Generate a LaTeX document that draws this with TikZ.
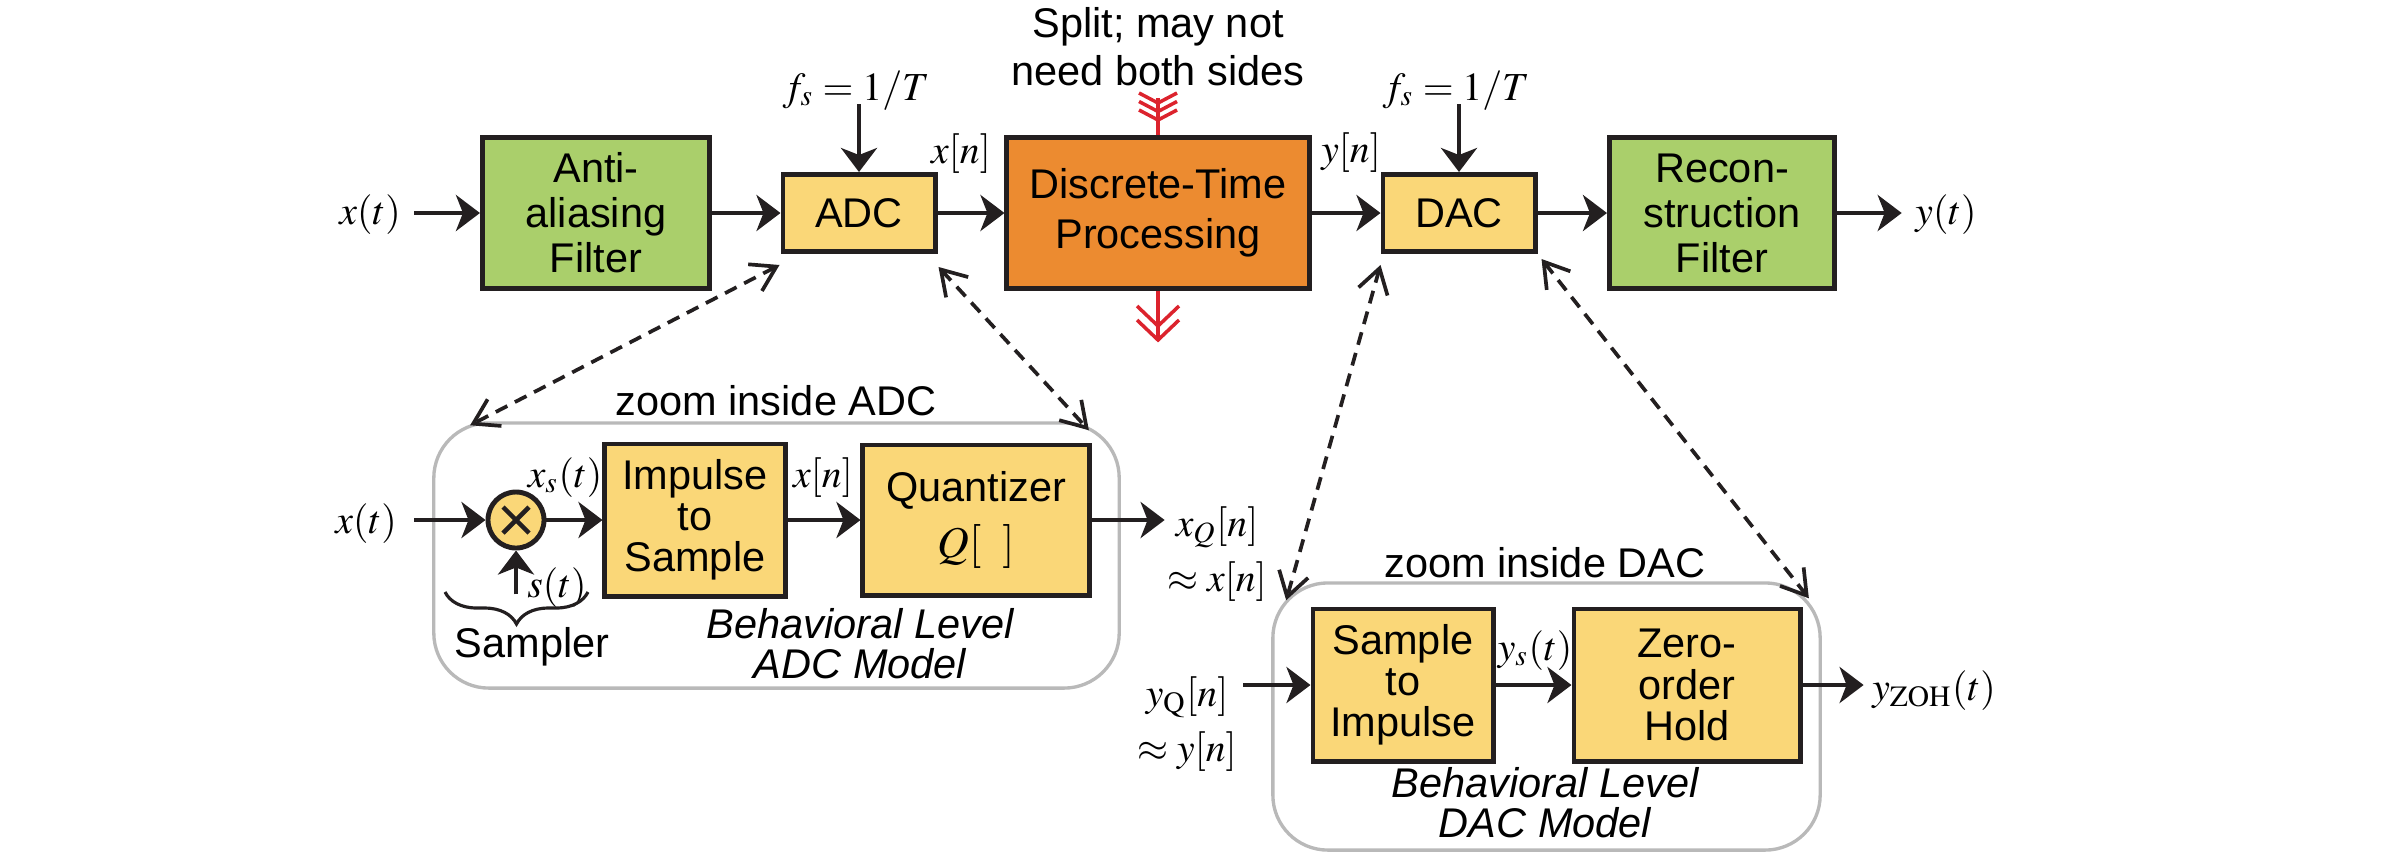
\documentclass[tikz,border=0pt]{standalone}
\usepackage{mathptmx}
\usepackage[no-math]{fontspec}
\setmainfont{Liberation Sans}
\usetikzlibrary{arrows.meta,decorations.pathreplacing,calc}
\definecolor{cgreen}{RGB}{170,207,107}
\definecolor{cyellow}{RGB}{250,215,120}
\definecolor{corange}{RGB}{236,139,48}
\definecolor{cline}{RGB}{35,31,32}
\definecolor{cred}{RGB}{220,35,45}
\definecolor{cgray}{RGB}{185,185,185}
\begin{document}
\begin{tikzpicture}[x=0.01cm,y=-0.01cm,
 box/.style={draw=cline,line width=1.4pt,align=center,inner sep=0pt,font=\fontsize{11.8}{12.8}\selectfont},
 sbox/.style={box,font=\fontsize{11.8}{11.7}\selectfont},
 lbl/.style={inner sep=0pt,font=\fontsize{11.3}{12}\selectfont},
 txt/.style={inner sep=0pt,align=center,font=\fontsize{11.8}{12.8}\selectfont},
 arr/.style={draw=cline,line width=1.4pt,-{Stealth[length=0.24cm,width=0.36cm,inset=0.07cm]}},
 zarr/.style={draw=cline,line width=1.05pt,dash pattern=on 0.13cm off 0.085cm,{Straight Barb[length=0.24cm,width=0.3cm]}-{Straight Barb[length=0.24cm,width=0.3cm]}},
 zbox/.style={draw=cgray,line width=0.95pt,rounded corners=0.55cm,inner sep=0pt},
 redl/.style={draw=cred,line width=1pt},
]
\useasboundingbox (0,0) rectangle (2383,866);

% ---------- top row ----------
\node[box,fill=cgreen,minimum width=2.27cm,minimum height=1.51cm] (aa) at (596,213) {Anti-\\aliasing\\Filter};
\node[box,fill=cyellow,minimum width=1.52cm,minimum height=0.77cm] (adc) at (859,213) {ADC};
\node[box,fill=corange,minimum width=3.02cm,minimum height=1.51cm,font=\fontsize{11.8}{14.2}\selectfont] (dt) at (1158,213) {Discrete-Time\\Processing};
\node[box,fill=cyellow,minimum width=1.52cm,minimum height=0.77cm] (dac) at (1459,213) {DAC};
\node[box,fill=cgreen,minimum width=2.25cm,minimum height=1.51cm] (rec) at (1722,213) {Recon-\\struction\\Filter};

\node[lbl,anchor=base] (xin) at (370,224) {$x(t)$};
\node[lbl,anchor=base] (yout) at (1946,224) {$y(t)$};
\node[lbl,anchor=base] (xn) at (961,163) {$x[n]$};
\node[lbl,anchor=base] (yn) at (1351,162) {$y[n]$};
\node[lbl,anchor=base] (fs1) at (856,100) {$f_s = 1/T$};
\node[lbl,anchor=base] (fs2) at (1456,100) {$f_s = 1/T$};
\node[txt,anchor=north,font=\fontsize{11.8}{13.7}\selectfont] (split) at (1158,7) {Split; may not\\need both sides};

\draw[arr] (xin.east |- aa.west) ++(13,0) -- (aa.west);
\draw[arr] (aa.east) -- (adc.west);
\draw[arr] (adc.east) -- (dt.west);
\draw[arr] (dt.east) -- (dac.west);
\draw[arr] (dac.east) -- (rec.west);
\draw[arr] (rec.east) -- ($(yout.west |- rec.east)+(-13,0)$);
\draw[arr] ($(adc.north |- fs1.base)+(0,4)$) -- (adc.north);
\draw[arr] ($(dac.north |- fs2.base)+(0,4)$) -- (dac.north);

% red split marks
\draw[redl] (dt.north) -- ++(0,-37);
\foreach \k in {0,1,2} \draw[redl] ($(dt.north)+(-19,-42+8.5*\k)$) -- ++(19,10) -- ++(19,-10);
\draw[redl] (dt.south) -- ++(0,49);
\foreach \k in {0,1} \draw[redl] ($(dt.south)+(-21,15+14*\k)$) -- ++(21,20) -- ++(21,-20);

% ---------- ADC zoom ----------
\node[zbox,minimum width=6.85cm,minimum height=2.65cm] (adcz) at (776.5,555.5) {};
\node[txt,anchor=base] (adczl) at (776,415) {zoom inside ADC};
\node[lbl,anchor=base] (xin2) at (366,533) {$x(t)$};
\node[circle,draw=cline,fill=cyellow,line width=1.4pt,minimum size=0.56cm,inner sep=0pt] (mul) at (516,520) {};
\draw[line width=1.3pt,cline] ($(mul.center)+(-13,-13)$) -- ($(mul.center)+(13,13)$);
\draw[line width=1.3pt,cline] ($(mul.center)+(-13,13)$) -- ($(mul.center)+(13,-13)$);
\node[sbox,fill=cyellow,minimum width=1.80cm,minimum height=1.52cm] (imp) at (695,520) {Impulse\\to\\Sample};
\node[box,fill=cyellow,minimum width=2.26cm,minimum height=1.50cm] (qz) at (976,520) {Quantizer\\[3pt]{\fontsize{12.5}{13}\selectfont$Q[\hspace{6pt}]$}};
\node[lbl,anchor=base] (xs) at (565,487) {$x_s(t)$};
\node[lbl,anchor=base] (st) at (557,597) {$s(t)$};
\node[lbl,anchor=base] (xn2) at (823,487) {$x[n]$};
\node[lbl,anchor=north,align=center,font=\fontsize{11.3}{15.6}\selectfont] (xq) at (1217,506) {$x_Q[n]$\\$\approx x[n]$};
\node[txt,anchor=base] (samp) at (532,657) {Sampler};
\node[txt,anchor=north,font=\itshape\fontsize{11.8}{11.4}\selectfont] (bha) at (860,608) {Behavioral Level\\ADC Model};

\draw[arr] ($(xin2.east |- mul.west)+(17,0)$) -- (mul.west);
\draw[arr] (mul.east) -- (imp.west);
\draw[arr] ($(mul.south)+(0,44)$) -- (mul.south);
\draw[arr] (imp.east) -- (qz.west);
\draw[arr] (qz.east) -- ($(xq.west |- qz.east)+(-2,0)$);
\draw[decorate,decoration={brace,mirror,amplitude=0.32cm},line width=0.9pt,draw=cline] (445,592) -- (588,592);

% ---------- DAC zoom ----------
\node[zbox,minimum width=5.47cm,minimum height=2.67cm] (dacz) at (1546.5,716.5) {};
\node[txt,anchor=base] (daczl) at (1545,577) {zoom inside DAC};
\node[sbox,fill=cyellow,minimum width=1.80cm,minimum height=1.52cm] (s2i) at (1403,685) {Sample\\to\\Impulse};
\node[sbox,fill=cyellow,minimum width=2.26cm,minimum height=1.52cm] (zoh) at (1687,685) {Zero-\\order\\Hold};
\node[lbl,anchor=north,align=center,font=\fontsize{11.3}{15.6}\selectfont] (yq) at (1187,676) {$y_{\mathrm{Q}}[n]$\\$\approx y[n]$};
\node[lbl,anchor=base] (ys) at (1535,660) {$y_s(t)$};
\node[lbl,anchor=base] (yzoh) at (1934,700) {$y_{\mathrm{ZOH}}(t)$};
\node[txt,anchor=north,font=\itshape\fontsize{11.8}{11.4}\selectfont] (bhd) at (1545,767) {Behavioral Level\\DAC Model};

\draw[arr] ($(yq.east |- s2i.west)+(6,0)$) -- (s2i.west);
\draw[arr] (s2i.east) -- (zoh.west);
\draw[arr] (zoh.east) -- ($(yzoh.west |- zoh.east)+(-8,0)$);

% ---------- zoom connectors ----------
\draw[zarr] ($(adc.south west)+(-1,11)$) -- ($(adcz.north west)+(38,4)$);
\draw[zarr] ($(adc.south east)+(1,13)$) -- ($(adcz.north east)+(-32,9)$);
\draw[zarr] ($(dac.south west)+(0,11)$) -- ($(dacz.north west)+(15,19)$);
\draw[zarr] ($(dac.south east)+(4,5)$) -- ($(dacz.north east)+(-13,17)$);
\end{tikzpicture}
\end{document}
